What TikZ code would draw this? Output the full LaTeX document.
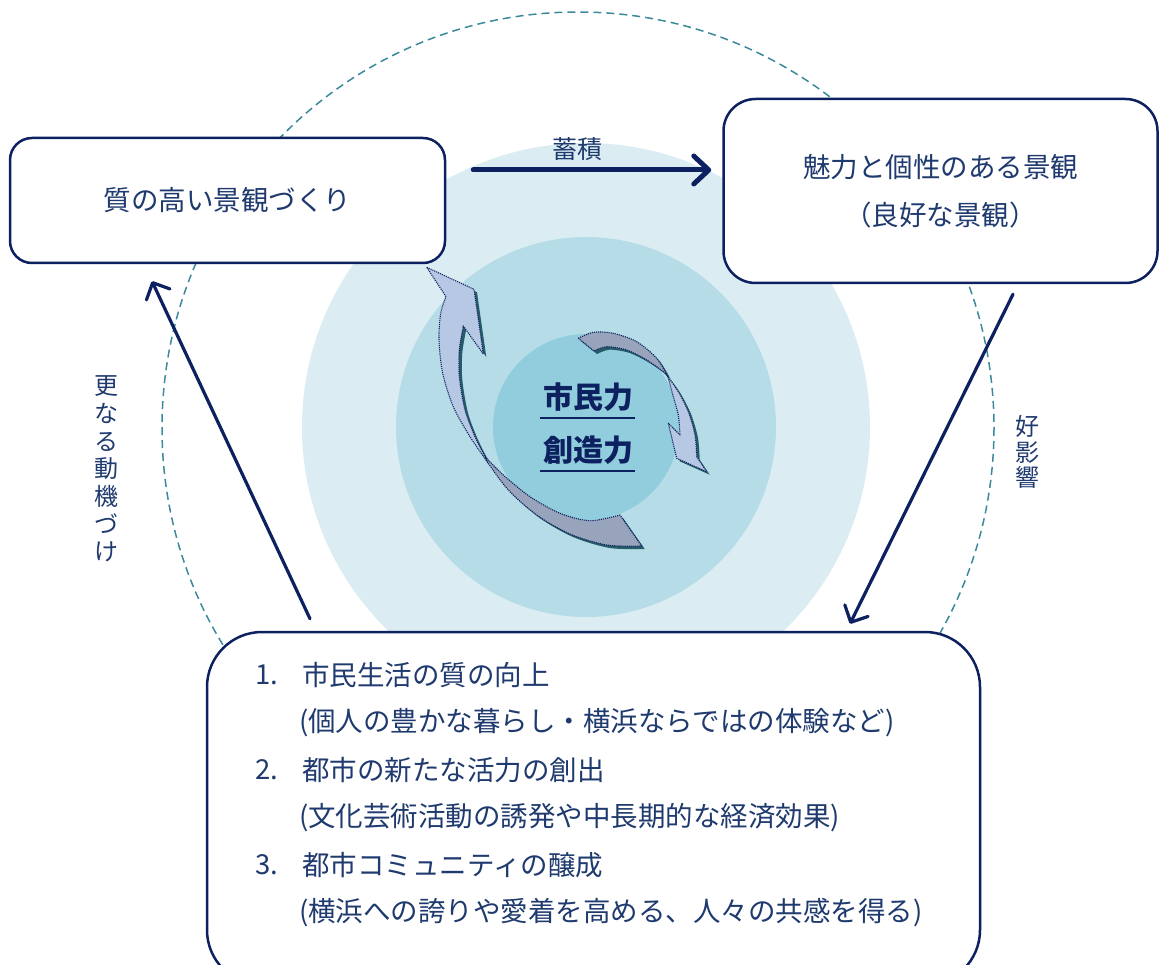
\documentclass[tikz,border=0pt]{standalone}
\usepackage{fontspec}
\setmainfont{Noto Sans CJK JP}
\usetikzlibrary{positioning, arrows.meta, calc}
\definecolor{ringouter}{HTML}{DBEDF3}
\definecolor{ringmid}{HTML}{B6DDE7}
\definecolor{ringinner}{HTML}{91CDDC}
\definecolor{orbitteal}{HTML}{3B8A9C}
\definecolor{framenavy}{HTML}{0D2160}
\definecolor{textnavy}{HTML}{1F3A6E}
\definecolor{cyclefront}{HTML}{B7C8E4}
\definecolor{cycleback}{HTML}{97A4BB}
\definecolor{cycleshade}{HTML}{265C69}

% outlines of the two twisted arrows
\newcommand{\bigcyclefront}{(426.7,267.3) -- (474,289.3) -- (483.3,354) -- (463.3,326)
  -- plot[smooth] coordinates {(463.3,326) (459.3,350) (459.3,376.7) (465,410) (475,436.7) (485,456.7)}
  -- (488.3,463.3)
  -- plot[smooth] coordinates {(488.3,463.3) (470,436.7) (453.3,406.7) (442.7,373.3) (439,340) (440.7,313.3) (446,296.7)}
  -- cycle}
\newcommand{\bigcycleback}{(485,456.7)
  -- plot[smooth] coordinates {(485,456.7) (503.3,475) (530,496.7) (560,513.3) (590,520.7) (620,515)}
  -- (641.7,546)
  -- plot[smooth] coordinates {(641.7,546) (606.7,545) (570,534) (536.7,515) (508.3,490) (488.3,463.3)}
  -- cycle}
\newcommand{\smallcycleback}{(578.3,338.3)
  -- plot[smooth] coordinates {(578.3,338.3) (593.3,332.3) (613.3,333.3) (636.7,341.7) (656.7,358.3) (668,377)}
  -- plot[smooth] coordinates {(668,377) (663.3,371.7) (646.7,360) (626.7,350) (606.7,346.7) (594,351)}
  -- cycle}
\newcommand{\smallcyclefront}{(668,377)
  -- plot[smooth] coordinates {(668,377) (678.3,391.7) (688.3,411.7) (695,435) (696.7,456.7)}
  -- (706.7,471.7) -- (676.7,458.3) -- (668.3,423.3) -- (680,435)
  -- plot[smooth] coordinates {(680,435) (678.3,415) (673.3,396.7) (668,377)}
  -- cycle}

\begin{document}
\begin{tikzpicture}[x=1pt, y=-1pt,
  panel/.style={draw=framenavy, line width=2.5pt, fill=white, rounded corners=#1,
    text=textnavy, font=\fontsize{27.5}{48}\selectfont, align=center, inner sep=0pt},
  flow/.style={draw=framenavy, line width=3.2pt, line cap=round,
    -{Straight Barb[length=13pt, width=26pt, line cap=round, line join=round]}},
  itemtext/.style={text=textnavy, font=\fontsize{27.5}{30}\selectfont, inner sep=0pt},
  sidelabel/.style={text=textnavy, align=center, inner sep=0pt},
  coretext/.style={text=framenavy, font=\fontsize{30}{32}\selectfont\bfseries, inner sep=0pt},
  underbar/.style={draw=framenavy, line width=2pt},
  cycleedge/.style={draw=framenavy, line width=1.1pt, densely dotted, line join=round}]

  \useasboundingbox (0,0) rectangle (1159,965);
  \clip (0,0) rectangle (1159,965);

  % Rings
  \fill[ringouter] (586,427) circle (284);
  \fill[ringmid] (586,427) circle (190);
  \fill[ringinner] (586,427) circle (93);

  % Orbit
  \draw[orbitteal, line width=1.5pt, dash pattern=on 8pt off 5pt] (578,428) circle (416);

  % Boxes
  \node[panel=22pt, minimum width=435pt, minimum height=125pt] (quality) at (227.5,200.5)
    {質の高い景観づくり};
  \node[panel=32pt, minimum width=434pt, minimum height=184pt] (charm) at (940.5,191)
    {魅力と個性のある景観\\（良好な景観）};
  \node[panel=55pt, minimum width=773pt, minimum height=353pt] (effects) at (593.5,808.5) {};

  % Effects list
  \foreach \num/\head/\note [count=\i] in {
      1/市民生活の質の向上/{(個人の豊かな暮らし・横浜ならではの体験など)},
      2/都市の新たな活力の創出/{(文化芸術活動の誘発や中長期的な経済効果)},
      3/都市コミュニティの醸成/{(横浜への誇りや愛着を高める、人々の共感を得る)}}{
    \pgfmathsetmacro{\yrow}{675 + 95*(\i-1)}
    \node[itemtext, anchor=west] (num\i) at (255,\yrow) {\num.};
    \node[itemtext, anchor=west] (head\i) at (302,\yrow) {\head};
    \node[itemtext, anchor=west] (note\i) at (299,\yrow+47.5) {\note};
  }

  % Connectors
  \draw[flow, line width=5pt, -{Straight Barb[length=15pt, width=28pt, line cap=round, line join=round]}]
    ($(quality.east)+(27,-30.5)$) -- ($(charm.west)+(-11,-21)$)
    node[pos=0.44, above=7pt, sidelabel, font=\fontsize{25}{27}\selectfont] (stock) {蓄積};
  \draw[flow] ($(charm.south)+(72.5,10)$) -- ($(effects.north)+(256.5,-7)$);
  \draw[flow] ($(effects.north)+(-283.5,-12)$) -- ($(quality.south)+(-75.5,17)$);

  % Side labels
  \node[sidelabel, font=\fontsize{24}{25.5}\selectfont] (goodeffect) at (1027,452) {好\\影\\響};
  \node[sidelabel, font=\fontsize{24}{27.7}\selectfont] (motive) at (106,469)
    {更\\な\\る\\動\\機\\づ\\け};

  % Twisted arrows
  \fill[cycleshade, shift={(3,3)}] \bigcyclefront;
  \fill[cycleshade, shift={(3,3)}] \bigcycleback;
  \fill[cycleshade, shift={(3,3)}] \smallcycleback;
  \fill[cycleshade, shift={(3,3)}] \smallcyclefront;
  \path[fill=cyclefront, cycleedge] \bigcyclefront;
  \path[fill=cycleback, cycleedge] \bigcycleback;
  \path[fill=cycleback, cycleedge] \smallcycleback;
  \path[fill=cyclefront, cycleedge] \smallcyclefront;

  % Core
  \node[coretext] (citizen) at (588,397) {市民力};
  \node[coretext] (creative) at (588,450) {創造力};
  \draw[underbar] ($(citizen.center)+(-48,21)$) -- ($(citizen.center)+(47,21)$);
  \draw[underbar] ($(creative.center)+(-48,21)$) -- ($(creative.center)+(47,21)$);
\end{tikzpicture}
\end{document}
